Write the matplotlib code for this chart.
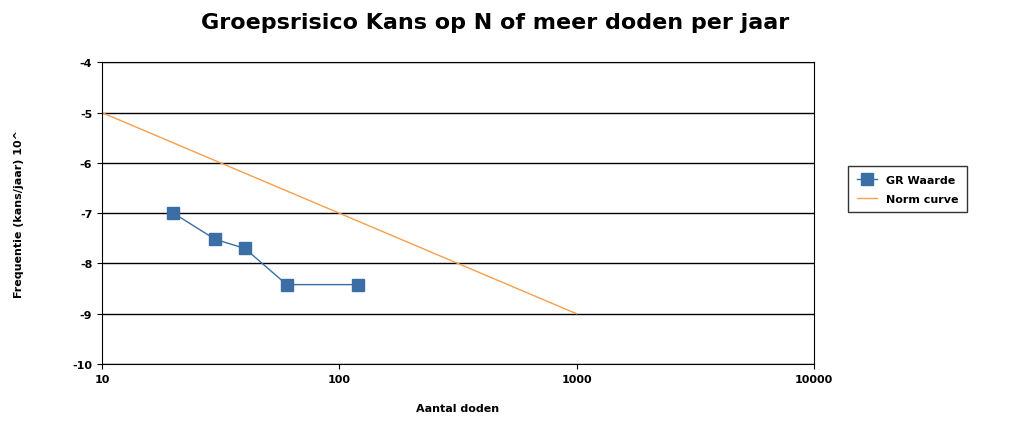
import matplotlib
matplotlib.use("Agg")
import matplotlib.pyplot as plt

plt.rcParams["axes.unicode_minus"] = False

gr_n = [20, 30, 40, 60, 120]
gr_freq = [-7.0, -7.52, -7.7, -8.42, -8.42]
norm_n = [10, 1000]
norm_freq = [-5, -9]

fig = plt.figure(figsize=(10.2, 4.31), dpi=100)
ax = fig.add_axes([0.1, 0.153, 0.698, 0.7])
ax.plot(gr_n, gr_freq, color="#3a6ea5", marker="s", markersize=9, lw=1, label="GR Waarde")
ax.plot(norm_n, norm_freq, color="#f5a04a", lw=1, label="Norm curve")
ax.set_xscale("log")
ax.set_xlim(10, 10000)
ax.set_ylim(-10, -4)
ax.set_xticks([10, 100, 1000, 10000])
ax.set_xticklabels(["10", "100", "1000", "10000"])
ax.minorticks_off()
ax.yaxis.grid(True, color="black", lw=1)
ax.tick_params(labelsize=8, direction="out")
for lbl in ax.get_xticklabels() + ax.get_yticklabels():
    lbl.set_fontweight("bold")
ax.set_xlabel("Aantal doden", fontsize=8, fontweight="bold", labelpad=14)
ax.set_ylabel("Frequentie (kans/jaar) 10^", fontsize=8, fontweight="bold", labelpad=35)
fig.suptitle("Groepsrisico Kans op N of meer doden per jaar", fontsize=16,
             fontweight="bold", x=0.485, y=0.97)
ax.legend(loc="center left", bbox_to_anchor=(1.04, 0.58), frameon=True,
          fancybox=False, edgecolor="black", handlelength=1.8, borderpad=0.8,
          labelspacing=0.8, prop={"weight": "bold", "size": 8})
fig.savefig("out.png")
